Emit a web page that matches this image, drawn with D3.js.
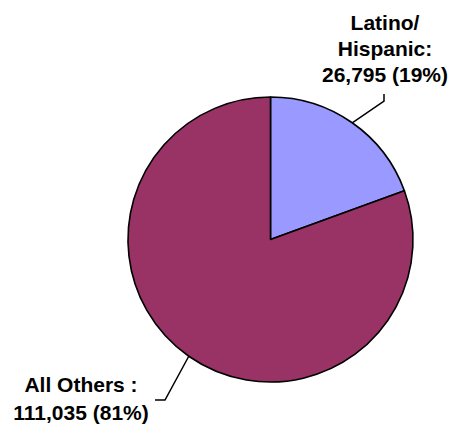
<!DOCTYPE html>
<html>
<head>
<meta charset="utf-8">
<script src="https://cdn.jsdelivr.net/npm/d3@7"></script>
<style>
  html, body { margin: 0; padding: 0; background: #fff; }
  svg { display: block; }
  text { font-family: "Liberation Sans", Arial, sans-serif; font-weight: bold; fill: #000; }
</style>
</head>
<body>
<svg id="chart" width="454" height="428"></svg>
<script>
// Population groups
const categories = ["Latino/ Hispanic", "All Others"];
const labelLines = [["Latino/", "Hispanic:"], ["All Others :"]];
const values = [26795, 111035];
const colors = ["#9999FF", "#993366"];

const width = 454, height = 428;
const cx = 270.5, cy = 239.5, radius = 142.5;

const svg = d3.select("#chart");
const g = svg.append("g").attr("transform", `translate(${cx},${cy})`);

const total = d3.sum(values);
const data = categories.map((c, i) => ({ name: c, lines: labelLines[i], value: values[i], color: colors[i] }));

const pie = d3.pie().value(d => d.value).sort(null);
const arc = d3.arc().innerRadius(0).outerRadius(radius);
const arcs = pie(data);

g.selectAll("path.slice")
  .data(arcs)
  .enter().append("path")
  .attr("class", "slice")
  .attr("d", arc)
  .attr("fill", d => d.data.color)
  .attr("stroke", "#000")
  .attr("stroke-width", 1.6)
  .attr("stroke-linejoin", "round");

// Label placement: elbow and end point of each leader, text anchor point
const layout = [
  { elbow: [384 - cx, 101 - cy], end: [384 - cx, 94 - cy], text: [385 - cx, 29.5 - cy], dy: 26 },
  { elbow: [165 - cx, 400 - cy], end: [155 - cx, 400 - cy], text: [81 - cx, 391.5 - cy], dy: 28 }
];

const fmt = d3.format(",");
arcs.forEach((a, i) => {
  const mid = (a.startAngle + a.endAngle) / 2;
  const edge = [radius * Math.sin(mid), -radius * Math.cos(mid)];
  const L = layout[i];
  g.append("polyline")
    .attr("points", [edge, L.elbow, L.end].map(p => p.join(",")).join(" "))
    .attr("fill", "none")
    .attr("stroke", "#000")
    .attr("stroke-width", 1.5);

  const pct = Math.round(a.data.value / total * 100);
  const lines = a.data.lines.concat([`${fmt(a.data.value)} (${pct}%)`]);
  const t = g.append("text")
    .attr("text-anchor", "middle")
    .attr("font-size", 21);
  lines.forEach((ln, j) => {
    t.append("tspan")
      .attr("x", L.text[0])
      .attr("y", L.text[1] + j * L.dy)
      .text(ln);
  });
});
</script>
</body>
</html>
